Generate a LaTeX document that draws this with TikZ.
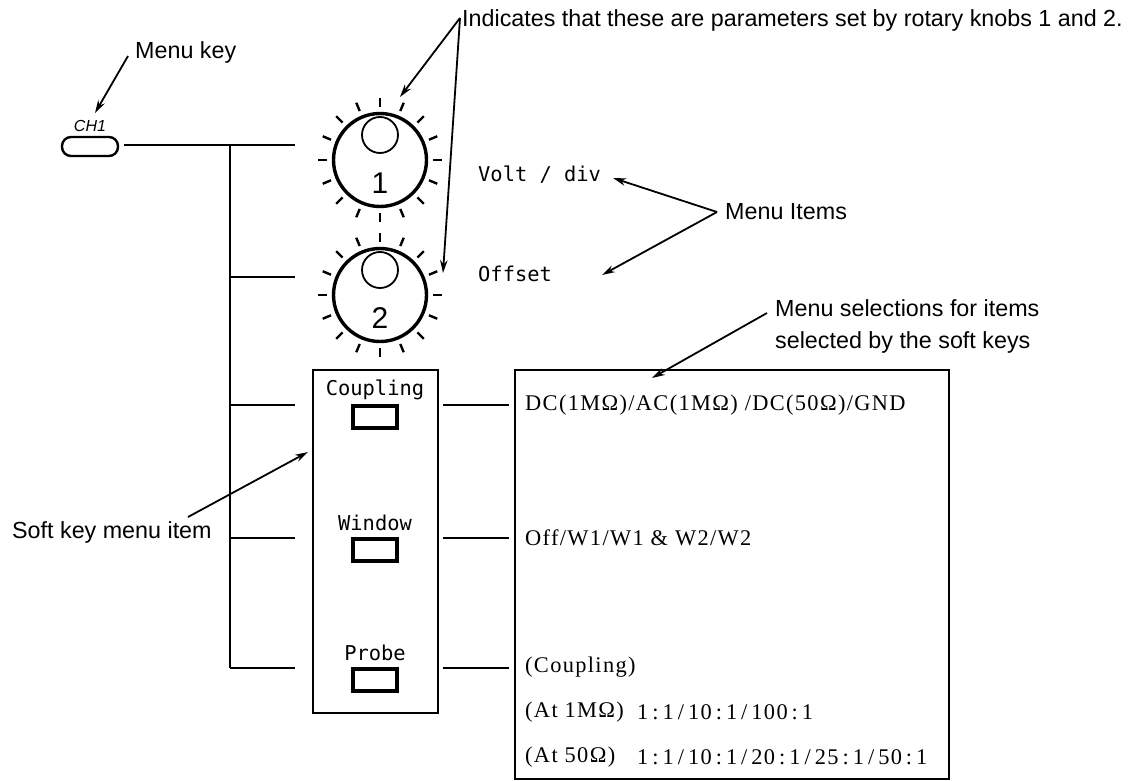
\documentclass[tikz,border=0pt]{standalone}
\usepackage{fontspec}
\setmainfont{Liberation Serif}
\newfontfamily\lsans{Liberation Sans}
\newfontfamily\lmono{DejaVu Sans Mono}
\newfontfamily\lserif[LetterSpace=6]{Liberation Serif}
\newcommand\ratc{\kern4pt:\kern4pt}
\newcommand\rats{\kern4pt/\kern4pt}
\usetikzlibrary{arrows.meta}
\begin{document}
\begin{tikzpicture}[x=1pt,y=-1pt,
  ln/.style={line width=2pt},
  arr/.style={line width=1.8pt,-{Stealth[length=13pt,width=7.5pt]}},
  sanslbl/.style={font=\lsans\fontsize{23.3}{28}\selectfont, inner sep=0pt, anchor=west},
  monolbl/.style={font=\lmono\fontsize{20.4}{24}\selectfont, inner sep=0pt},
  seriflbl/.style={font=\lserif\fontsize{22.4}{26}\selectfont, inner sep=0pt, anchor=west},
  softkey/.style={draw, line width=3.2pt, minimum width=44pt, minimum height=22pt, inner sep=0pt},
  knob/.style={draw, circle, line width=3.4pt, minimum size=93pt, inner sep=0pt},
  knobcap/.style={draw, circle, line width=1.8pt, minimum size=36pt, inner sep=0pt},
  knobnum/.style={font=\lsans\fontsize{30}{34}\selectfont, inner sep=0pt},
  tick/.style={line width=2.4pt},
  frame/.style={draw, line width=2.1pt, inner sep=0pt}
]
\useasboundingbox (0,0) rectangle (1143,781);

% menu key
\node[draw, rounded corners=9pt, line width=2.4pt, minimum width=56pt, minimum height=19pt, inner sep=0pt] (ch1) at (90,146.5) {};
\node[font=\lsans\itshape\fontsize{16}{19}\selectfont, inner sep=0pt] (ch1lbl) at (90,126) {CH1};
\node[sanslbl] (menukey) at (135,52) {Menu key};
\coordinate (mkfrom) at (128,56);
\coordinate (mkto) at (95,113);
\draw[arr] (mkfrom) -- (mkto);

% knobs
\node[knob] (k1) at (380,160) {};
\node[knobcap] (c1) at (380,135) {};
\node[knobnum] (n1) at (380,183) {1};
\node[knob] (k2) at (380,295) {};
\node[knobcap] (c2) at (380,270) {};
\node[knobnum] (n2) at (380,318) {2};
\foreach \k in {k1,k2}{
  \foreach \a in {0,22.5,...,337.5}{
    \draw[tick] ([shift={(\a:53)}]\k.center) -- ([shift={(\a:62)}]\k.center);
  }
}

% bus
\coordinate (b0) at (230,145);
\coordinate (b1) at (230,277);
\coordinate (b2) at (230,405);
\coordinate (b3) at (230,538);
\coordinate (b4) at (230,668);
\coordinate (e1) at (295,277);
\coordinate (e2) at (295,405);
\coordinate (e3) at (295,538);
\coordinate (e4) at (295,668);
\coordinate (e0) at (295,145);
\coordinate (s0) at (124,145);
\draw[ln] (s0) -- (e0);
\draw[ln] (b0) -- (b4);
\draw[ln] (b1) -- (e1);
\draw[ln] (b2) -- (e2);
\draw[ln] (b3) -- (e3);
\draw[ln] (b4) -- (e4);

% soft key box
\node[frame, minimum width=125pt, minimum height=343pt] (skbox) at (375.5,541.5) {};
\node[monolbl] (tcoup) at (375,390) {Coupling};
\node[softkey] (kcoup) at (375,417) {};
\node[monolbl] (twin) at (375,523) {Window};
\node[softkey] (kwin) at (375,550) {};
\node[monolbl] (tprobe) at (375,653) {Probe};
\node[softkey] (kprobe) at (375,680) {};

% selection box
\node[frame, minimum width=434pt, minimum height=409pt] (selbox) at (732,574.5) {};
\coordinate (r2a) at (443,405); \coordinate (r2b) at (509,405);
\coordinate (r3a) at (443,538); \coordinate (r3b) at (509,538);
\coordinate (r4a) at (443,668); \coordinate (r4b) at (509,668);
\draw[ln] (r2a) -- (r2b);
\draw[ln] (r3a) -- (r3b);
\draw[ln] (r4a) -- (r4b);

\node[seriflbl] (sdc) at (525,405) {DC(1MΩ)/AC(1MΩ) /DC(50Ω)/GND};
\node[seriflbl] (swin) at (525,538) {Off/W1/W1 \& W2/W2};
\node[seriflbl] (scoup) at (525,667) {(Coupling)};
\node[seriflbl] (s1m) at (525,712) {(At 1MΩ)};
\node[seriflbl] (s1mr) at (637,712) {1\ratc1\rats10\ratc1\rats100\ratc1};
\node[seriflbl] (s50) at (525,757) {(At 50Ω)};
\node[seriflbl] (s50r) at (637,757) {1\ratc1\rats10\ratc1\rats20\ratc1\rats25\ratc1\rats50\ratc1};

% menu items
\node[monolbl, anchor=west] (volt) at (478,175) {Volt / div};
\node[monolbl, anchor=west] (offs) at (478,274) {Offset};
\node[sanslbl] (mitems) at (725,212) {Menu Items};
\coordinate (mifrom) at (717,212);
\coordinate (mito1) at (613,178);
\coordinate (mito2) at (602,275);
\draw[arr] (mifrom) -- (mito1);
\draw[arr] (mifrom) -- (mito2);

% knob annotation
\node[sanslbl] (indic) at (462,20) {Indicates that these are parameters set by rotary knobs 1 and 2.};
\coordinate (apex) at (460,18);
\coordinate (kt1) at (400,97);
\coordinate (kt2) at (443,273);
\draw[arr] (apex) -- (kt1);
\draw[arr] (apex) -- (kt2);

% menu selections annotation
\node[sanslbl] (msel1) at (775,308) {Menu selections for items};
\node[sanslbl] (msel2) at (775,342) {selected by the soft keys};
\coordinate (msfrom) at (767,313);
\coordinate (msto) at (652,378);
\draw[arr] (msfrom) -- (msto);

% soft key annotation
\node[sanslbl] (softlbl) at (12,532) {Soft key menu item};
\coordinate (skfrom) at (188,517);
\coordinate (skto) at (308,452);
\draw[arr] (skfrom) -- (skto);
\end{tikzpicture}
\end{document}
